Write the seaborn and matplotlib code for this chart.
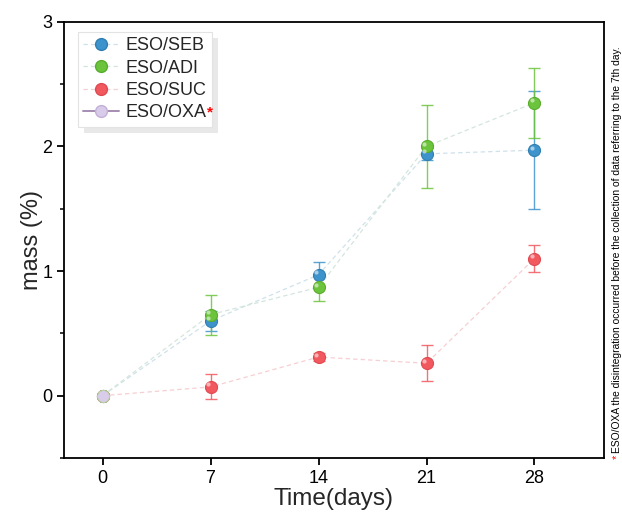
import numpy as np
import pandas as pd
import matplotlib
matplotlib.use("Agg")
import matplotlib.pyplot as plt
import matplotlib.transforms as mtransforms
from matplotlib.patches import Rectangle
from matplotlib.lines import Line2D
import seaborn as sns

# data
days = [0, 7, 14, 21, 28]
seb = [0.0, 0.60, 0.97, 1.94, 1.97]
seb_err = [0.0, 0.08, 0.10, 0.05, 0.475]
adi = [0.0, 0.65, 0.87, 2.00, 2.35]
adi_err = [0.0, 0.16, 0.11, 0.33, 0.28]
suc = [0.0, 0.07, 0.31, 0.26, 1.10]
suc_err = [0.0, 0.10, 0.03, 0.145, 0.105]
oxa_days = [0]
oxa = [0.0]

labels = ["ESO/SEB", "ESO/ADI", "ESO/SUC", "ESO/OXA"]
note = "ESO/OXA the disintegration occurred before the collection of data referring to the 7th day."

sns.set_style("ticks")
plt.rcParams["font.family"] = ["Liberation Sans", "DejaVu Sans"]

fig = plt.figure(figsize=(6.22, 5.12), dpi=100)
ax = fig.add_axes([0.1029, 0.1055, 0.868, 0.852])

# (values, errors, marker colour, marker edge, line colour)
series = [
    (seb, seb_err, "#3d93cb", "#2f7fb3", "#cfe2ea"),
    (adi, adi_err, "#6cc43c", "#58ad2c", "#d3e6dc"),
    (suc, suc_err, "#f2595f", "#de4a50", "#f6cfd3"),
]

for vals, errs, mc, me, lc in series:
    df = pd.DataFrame({"day": days, "mass": vals})
    sns.lineplot(data=df, x="day", y="mass", ax=ax, color=lc, lw=0.9,
                 linestyle=(0, (3.5, 2.5)), errorbar=None, zorder=2)
    ax.errorbar(days[1:], vals[1:], yerr=errs[1:], fmt="none", ecolor=mc,
                elinewidth=1.0, capsize=4, capthick=1.0, alpha=0.85, zorder=3)
    sns.scatterplot(x=days, y=vals, ax=ax, color=mc, edgecolor=me, s=75,
                    linewidth=0.8, zorder=4, legend=False)
    # small highlight for the glossy look
    hl = ax.transData + mtransforms.ScaledTranslation(-1.5 / 72, 1.8 / 72, fig.dpi_scale_trans)
    ax.scatter(days, vals, s=9, color="white", alpha=0.55, lw=0, zorder=5, transform=hl)

sns.scatterplot(x=oxa_days, y=oxa, ax=ax, color="#d9cbea", edgecolor="#b9d3a6",
                s=75, linewidth=0.8, zorder=6, legend=False)

ax.set_xlim(-2.5, 32.5)
ax.set_ylim(-0.5, 3)
ax.set_xticks(days)
ax.set_yticks([0, 1, 2, 3])
ax.set_yticks([-0.5, 0.5, 1.5, 2.5], minor=True)
ax.tick_params(axis="both", which="major", direction="out", length=5, width=1.3,
               labelsize=13, color="black", labelcolor="black")
ax.tick_params(axis="y", which="minor", direction="out", length=3, width=1.1, color="black")
for sp in ax.spines.values():
    sp.set_linewidth(1.3)
    sp.set_color("black")
ax.set_xlabel("Time(days)", fontsize=17.5, labelpad=1)
ax.set_ylabel("mass (%)", fontsize=17, labelpad=-1)

handles = []
for vals, errs, mc, me, lc in series:
    handles.append(Line2D([], [], color=lc, lw=0.9, linestyle=(0, (3.5, 2.5)), marker="o",
                          markersize=8.5, markerfacecolor=mc, markeredgecolor=me))
handles.append(Line2D([], [], color="#a68db2", lw=1.4, marker="o", markersize=8.5,
                      markerfacecolor="#d9cbea", markeredgecolor="#c2b0d8"))
leg = ax.legend(handles, labels, loc="upper left", bbox_to_anchor=(0.025, 0.977),
                fontsize=13, frameon=True, fancybox=False, edgecolor="#e3e3e3",
                framealpha=1, handlelength=2.0, handletextpad=0.35, labelspacing=0.3,
                borderpad=0.3, borderaxespad=0)
leg.get_frame().set_linewidth(0.8)

fig.canvas.draw()
r = fig.canvas.get_renderer()
fb = leg.get_frame().get_window_extent(r)
shadow = Rectangle((fb.x0 + 6, fb.y0 - 6), fb.width, fb.height, transform=None,
                   facecolor="#e8e8e8", edgecolor="none", zorder=4.9)
ax.add_artist(shadow)

tb = leg.get_texts()[3].get_window_extent(r)
fig.text(tb.x1 + 0.5, tb.y1 - 1, "*", color="red", fontsize=11, transform=None,
         ha="left", va="top", fontweight="bold")

# rotated footnote on the right
fig.text(0.992, 0.104, "*", color="red", fontsize=8, rotation=90, ha="center", va="bottom")
fig.text(0.992, 0.116, note, color="black", fontsize=7.4, rotation=90, ha="center", va="bottom")

fig.savefig("out.png", dpi=100)
